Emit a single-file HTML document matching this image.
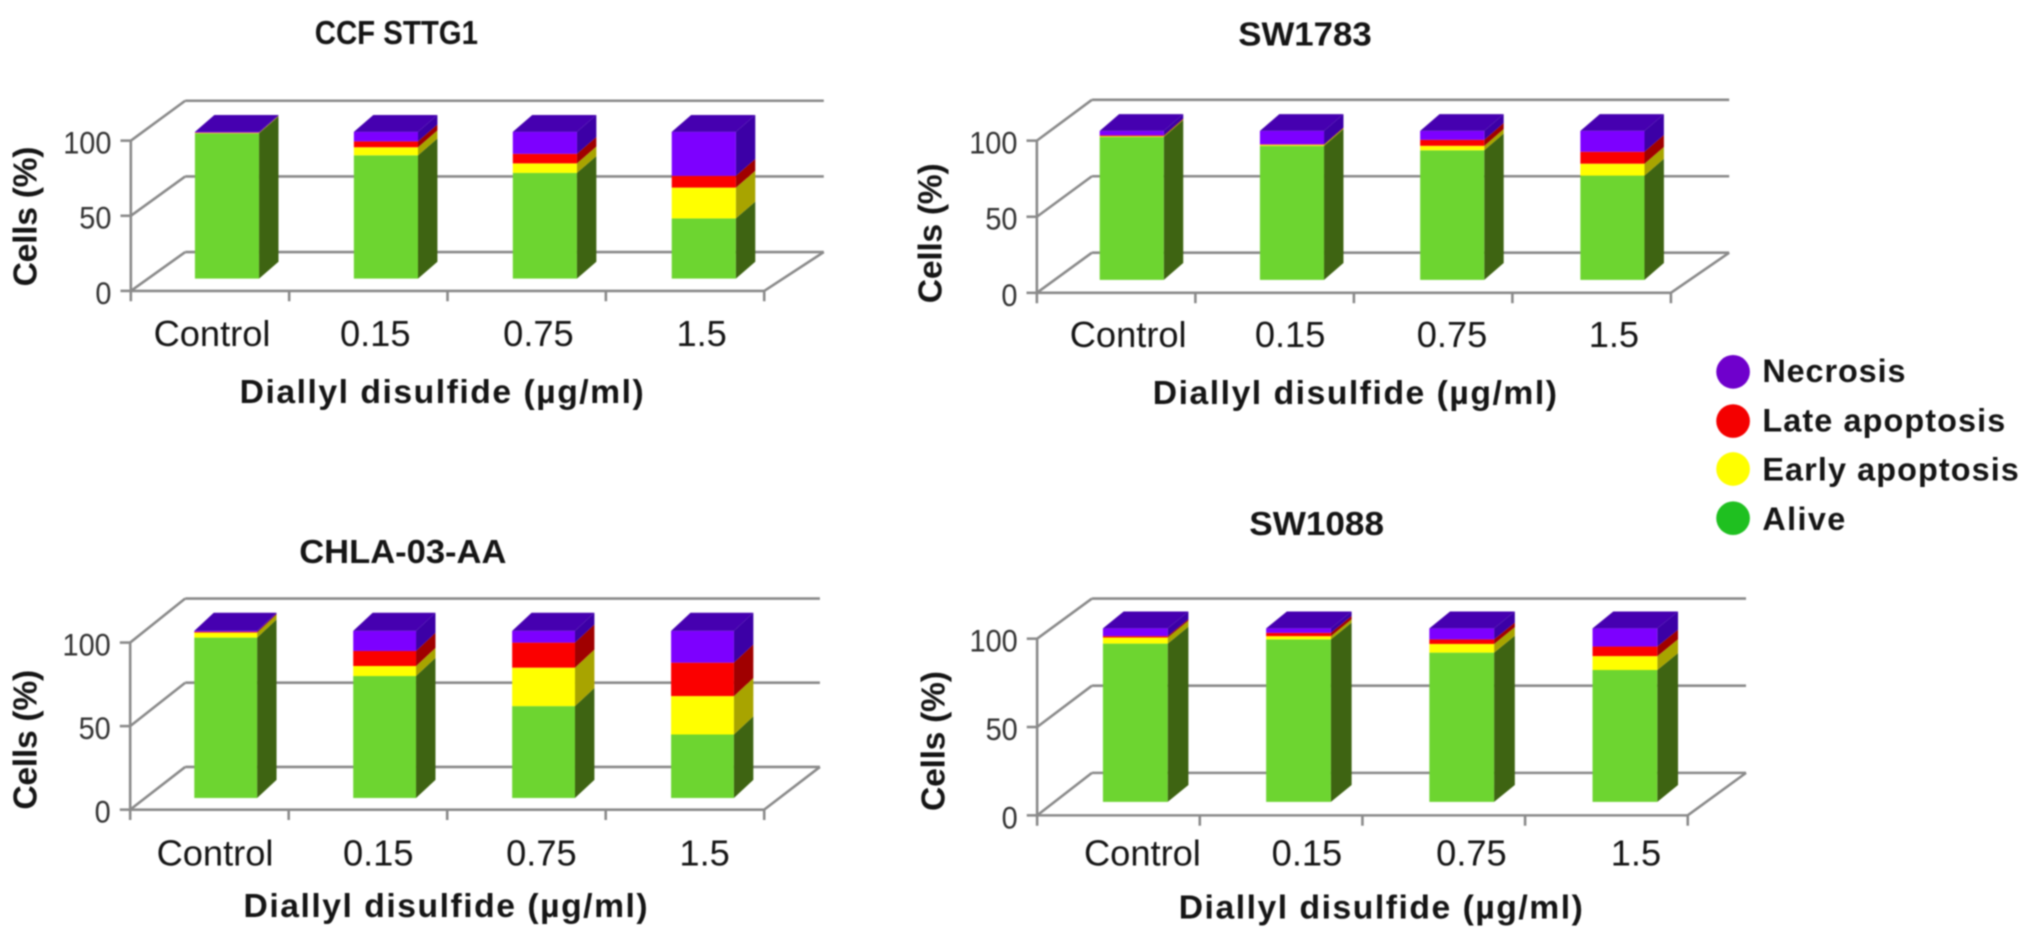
<!DOCTYPE html>
<html lang="en">
<head>
<meta charset="utf-8">
<title>Diallyl disulfide cell viability charts</title>
<style>
html,body{margin:0;padding:0;background:#fff;width:2031px;height:938px;overflow:hidden}
svg{display:block;filter:blur(.7px)}
text{font-family:"Liberation Sans",sans-serif;fill:#151515}
.b{font-weight:bold}
</style>
</head>
<body>
<svg id="fig" xmlns="http://www.w3.org/2000/svg" width="2031" height="938" viewBox="0 0 1568 724">
  <g>
    <circle cx="1338" cy="287" r="13" fill="#6f00cc"/>
    <text class="b" x="1360.6" y="295" font-size="25" textLength="110.5">Necrosis</text>
    <circle cx="1338" cy="325" r="13" fill="#f40000"/>
    <text class="b" x="1360.6" y="333" font-size="25" textLength="187.5">Late apoptosis</text>
    <circle cx="1338" cy="362" r="13" fill="#ffff00"/>
    <text class="b" x="1360.6" y="371" font-size="25" textLength="198">Early apoptosis</text>
    <circle cx="1338" cy="400" r="13" fill="#1fc020"/>
    <text class="b" x="1360.6" y="409" font-size="25" textLength="64">Alive</text>
  </g>
</svg>
<script>
const categories = ['Control', '0.15', '0.75', '1.5'];
const yTicks = [0, 50, 100];

const ccfAlive = [99, 84, 72, 41];
const ccfEarly = [0.3, 5.5, 6.5, 21];
const ccfLate = [0.2, 4, 6.5, 8];
const ccfNecrosis = [0.5, 6.5, 15, 30];

const swa1783Alive = [96, 90, 87, 70];
const swa1783Early = [0.5, 0.7, 3, 8];
const swa1783Late = [0.5, 0.3, 4, 8];
const swa1783Necrosis = [3, 9, 6, 14];

const chlaAlive = [96, 73, 55, 38];
const chlaEarly = [3, 6, 23, 23];
const chlaLate = [0.5, 9, 15, 20];
const chlaNecrosis = [0.5, 12, 7, 19];

const sw1088Alive = [91.2, 93.6, 86, 76];
const sw1088Early = [3.5, 1.9, 5, 8];
const sw1088Late = [0.8, 1.9, 2.6, 5.5];
const sw1088Necrosis = [4.5, 2.6, 6.4, 10.5];

const seriesNames = ['alive', 'early-apoptosis', 'late-apoptosis', 'necrosis'];
const frontColors = ['#6dd530', '#ffff00', '#fb0000', '#7d00ff'];
const sideColors = ['#3e6412', '#a8a400', '#a00000', '#3c00a6'];
const topColor = '#4600b0';

const svg = document.getElementById('fig');
const NS = 'http://www.w3.org/2000/svg';

function add(parent, tag, name, attrs, txt) {
  const el = document.createElementNS(NS, tag);
  
  
  for (const k in attrs) el.setAttribute(k, attrs[k]);
  if (txt !== undefined) el.textContent = txt;
  parent.appendChild(el);
  return el;
}
function pts(a) { return a.map(p => p.join(',')).join(' '); }

function drawPanel(key, title, g, alive, early, late, necrosis) {
  const root = add(svg, 'g', key + '-chart', {});
  add(root, 'text', key + '-title', {class: 'b', x: g.titleX, y: g.titleY, 'font-size': 26, 'text-anchor': 'middle', textLength: g.titleW, lengthAdjust: 'spacingAndGlyphs'}, title);

  const axisY = v => g.y0 - (g.y0 - g.y100) * v / 100;
  const backY = v => g.backBottom - (g.backBottom - g.backTop) * v / 100;
  const line = (name, x1, y1, x2, y2) => add(root, 'line', name, {x1, y1, x2, y2, stroke: '#8a8a8a', 'stroke-width': 2});

  yTicks.forEach(t => {
    line(key + '-gridline-' + t, g.x0 + g.dx, backY(t), g.backRight, backY(t));
    line(key + '-wall-edge-' + t, g.x0, axisY(t), g.x0 + g.dx, backY(t));
    line(key + '-y-tick-' + t, g.x0 - 8, axisY(t), g.x0, axisY(t));
    const ylab = add(root, 'text', key + '-y-label-' + t, {x: g.x0 - 15, y: axisY(t) + 10, 'font-size': 24, 'text-anchor': 'end', textLength: String(t).length * 12.4, lengthAdjust: 'spacingAndGlyphs'}, t);
    ylab.style.fill = '#333';
  });
  line(key + '-y-axis', g.x0, g.y100, g.x0, g.y0 + 8);
  line(key + '-x-axis', g.x0, g.y0, g.x1, g.y0);
  line(key + '-floor-right-edge', g.x1, g.y0, g.backRight, g.backBottom);

  const step = (g.x1 - g.x0) / categories.length;
  categories.forEach((c, i) => {
    const tx = g.x0 + step * (i + 1);
    line(key + '-x-tick-' + i, tx, g.y0, tx, g.y0 + 8);
    add(root, 'text', key + '-x-label-' + i, {x: g.labelX + g.labelStep * i, y: g.labelY, 'font-size': 28, 'text-anchor': 'middle'}, c);
  });

  add(root, 'text', key + '-x-axis-title', {class: 'b', x: g.xTitleX, y: g.xTitleY, 'font-size': 26, 'text-anchor': 'middle', textLength: 312}, 'Diallyl disulfide (µg/ml)');
  add(root, 'text', key + '-y-axis-title', {class: 'b', transform: 'translate(' + g.yTitleX + ' ' + g.yTitleY + ') rotate(-90)', 'font-size': 26, 'text-anchor': 'middle', textLength: 108}, 'Cells (%)');

  const barY = v => g.barBottom - (g.barBottom - g.barTop) * v / 100;
  const series = [alive, early, late, necrosis];
  categories.forEach((c, i) => {
    const bar = add(root, 'g', key + '-bar-' + i, {});
    const left = g.barX + g.barStep * i, right = left + g.barW;
    let cum = 0;
    series.forEach((s, k) => {
      const v0 = cum, v1 = cum + s[i];
      cum = v1;
      const yb = barY(v0), yt = barY(v1);
      add(bar, 'polygon', key + '-side-' + seriesNames[k] + '-' + i, {points: pts([[right, yb], [right + g.dx2, yb - g.dy2], [right + g.dx2, yt - g.dy2], [right, yt]]), fill: sideColors[k]});
      add(bar, 'rect', key + '-segment-' + seriesNames[k] + '-' + i, {x: left, y: yt, width: g.barW, height: Math.max(0, yb - yt), fill: frontColors[k]});
    });
    const yTop = barY(cum);
    add(bar, 'polygon', key + '-top-' + i, {points: pts([[left, yTop], [left + g.dx2, yTop - g.dy2], [right + g.dx2, yTop - g.dy2], [right, yTop]]), fill: topColor});
  });
}

drawPanel('ccf-sttg1', 'CCF STTG1',
  {titleX: 306, titleY: 34, titleW: 126, x0: 101, x1: 590, y0: 224.5, y100: 108.5, dx: 42, backRight: 636, backTop: 77.7, backBottom: 194.5, barX: 150.5, barStep: 122.7, barW: 49.5, barTop: 101.7, barBottom: 215, dx2: 15, dy2: 13, labelX: 163.7, labelStep: 126, labelY: 267, xTitleX: 341, xTitleY: 311, yTitleX: 28, yTitleY: 167},
  ccfAlive, ccfEarly, ccfLate, ccfNecrosis);

drawPanel('sw1783', 'SW1783',
  {titleX: 1007.5, titleY: 35, titleW: 103, x0: 800.5, x1: 1290, y0: 226, y100: 108.5, dx: 42.5, backRight: 1335, backTop: 77, backBottom: 195, barX: 849, barStep: 123.7, barW: 49.5, barTop: 101, barBottom: 216, dx2: 15, dy2: 13, labelX: 871, labelStep: 125, labelY: 268, xTitleX: 1046, xTitleY: 312, yTitleX: 727, yTitleY: 180},
  swa1783Alive, swa1783Early, swa1783Late, swa1783Necrosis);

drawPanel('chla-03-aa', 'CHLA-03-AA',
  {titleX: 311, titleY: 434.5, titleW: 160, x0: 100.5, x1: 590, y0: 625, y100: 496, dx: 42.5, backRight: 633, backTop: 462, backBottom: 592, barX: 150, barStep: 122.7, barW: 48.5, barTop: 487, barBottom: 616, dx2: 15, dy2: 14, labelX: 166, labelStep: 126, labelY: 668, xTitleX: 344, xTitleY: 708, yTitleX: 28, yTitleY: 571},
  chlaAlive, chlaEarly, chlaLate, chlaNecrosis);

drawPanel('sw1088', 'SW1088',
  {titleX: 1016.5, titleY: 413, titleW: 104, x0: 800.7, x1: 1303, y0: 629.4, y100: 493, dx: 42.3, backRight: 1348, backTop: 462, backBottom: 596.6, barX: 851.5, barStep: 126, barW: 50, barTop: 485, barBottom: 619, dx2: 16, dy2: 13, labelX: 882, labelStep: 127, labelY: 668, xTitleX: 1066, xTitleY: 709, yTitleX: 729, yTitleY: 572},
  sw1088Alive, sw1088Early, sw1088Late, sw1088Necrosis);
</script>
</body>
</html>
